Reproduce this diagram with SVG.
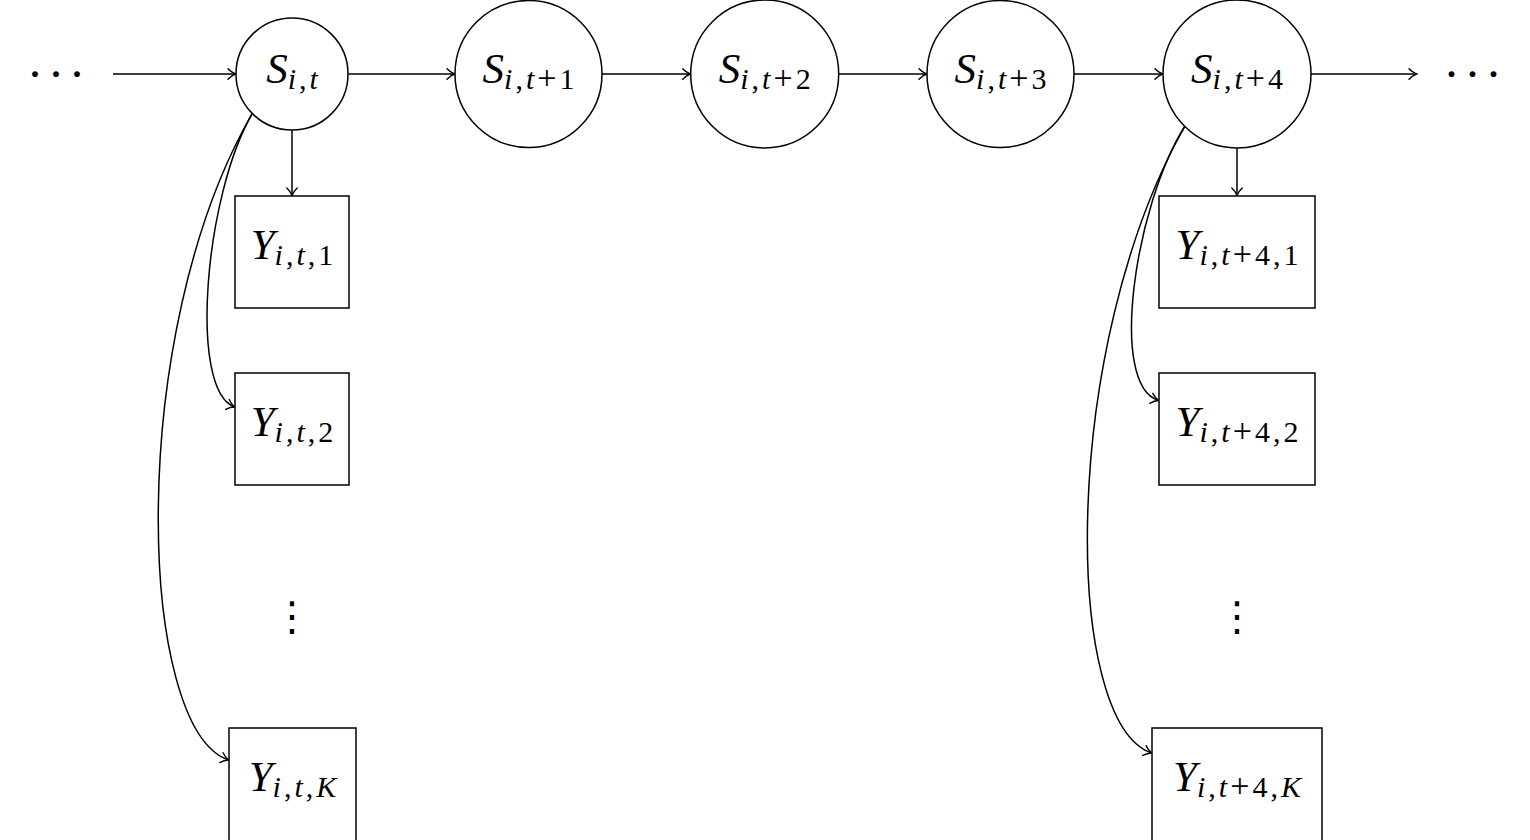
<svg xmlns="http://www.w3.org/2000/svg" width="1530" height="840" viewBox="0 0 1530 840">
  <style>
    .node { fill: #fff; stroke: #000; stroke-width: 1.5; }
    .edge { fill: none; stroke: #000; stroke-width: 1.5; marker-end: url(#tip); }
    .lbl { font-family: "Liberation Serif", "DejaVu Serif", serif; font-size: 43px; fill: #000; text-anchor: middle; }
    .it { font-style: italic; }
    .sub { font-size: 30px; letter-spacing: 3px; }
    .op { font-size: 34px; }
    .dots { font-family: "Liberation Serif", serif; font-size: 36px; font-weight: bold; fill: #000; text-anchor: middle; }
    .vdots { font-family: "DejaVu Sans", sans-serif; font-size: 40px; fill: #000; text-anchor: middle; }
  </style>
  <defs>
    <marker id="tip" markerUnits="userSpaceOnUse" markerWidth="16" markerHeight="16" viewBox="-10 -8 12 16" refX="0" refY="0" orient="auto">
      <path d="M -7.5 -5.2 C -4.8 -2.3 -1.6 -0.6 0 0 C -1.6 0.6 -4.8 2.3 -7.5 5.2" fill="none" stroke="#000" stroke-width="1.4" stroke-linecap="round"/>
    </marker>
  </defs>

  <!-- connectors -->
  <g id="edges">
    <path class="edge" d="M 113 74 L 235.5 74"/>
    <path class="edge" d="M 348.5 74 L 454.5 74"/>
    <path class="edge" d="M 602 74 L 690.2 74"/>
    <path class="edge" d="M 838.7 74 L 926.5 74"/>
    <path class="edge" d="M 1074 74 L 1162.5 74"/>
    <path class="edge" d="M 1311 74 L 1416.5 74"/>
    <path class="edge" d="M 292 130 L 292 195.5"/>
    <path class="edge" d="M 1237 148 L 1237 195.5"/>
    <path class="edge" d="M 252 114 C 205 195 188 390 234.5 407"/>
    <path class="edge" d="M 252 114 C 125 334 137 729 228.5 760"/>
    <path class="edge" d="M 1185 126 C 1135 205 1108 385 1158.5 400.5"/>
    <path class="edge" d="M 1185 126 C 1060 346 1062 722 1151.5 753"/>
  </g>

  <!-- ellipsis at the ends of the chain -->
  <text class="dots" x="56" y="86">· · ·</text>
  <text class="dots" x="1472.5" y="86">· · ·</text>

  <!-- hidden states -->
  <g id="S_t">
    <circle class="node" cx="292" cy="74" r="56"/>
    <text class="lbl" x="293.5" y="83"><tspan class="it">S</tspan><tspan class="sub" dy="6"><tspan class="it">i</tspan>,<tspan class="it">t</tspan></tspan></text>
  </g>
  <g id="S_t1">
    <circle class="node" cx="528.5" cy="74" r="73.5"/>
    <text class="lbl" x="530" y="83"><tspan class="it">S</tspan><tspan class="sub" dy="6"><tspan class="it">i</tspan>,<tspan class="it">t</tspan><tspan class="op">+</tspan>1</tspan></text>
  </g>
  <g id="S_t2">
    <circle class="node" cx="764.7" cy="74" r="74"/>
    <text class="lbl" x="766.2" y="83"><tspan class="it">S</tspan><tspan class="sub" dy="6"><tspan class="it">i</tspan>,<tspan class="it">t</tspan><tspan class="op">+</tspan>2</tspan></text>
  </g>
  <g id="S_t3">
    <circle class="node" cx="1000.5" cy="74" r="73.5"/>
    <text class="lbl" x="1002" y="83"><tspan class="it">S</tspan><tspan class="sub" dy="6"><tspan class="it">i</tspan>,<tspan class="it">t</tspan><tspan class="op">+</tspan>3</tspan></text>
  </g>
  <g id="S_t4">
    <circle class="node" cx="1237" cy="74" r="74"/>
    <text class="lbl" x="1238.5" y="83"><tspan class="it">S</tspan><tspan class="sub" dy="6"><tspan class="it">i</tspan>,<tspan class="it">t</tspan><tspan class="op">+</tspan>4</tspan></text>
  </g>

  <!-- observations for time t -->
  <g id="Y_t_1">
    <rect class="node" x="235" y="196" width="114" height="112"/>
    <text class="lbl" x="293.5" y="259"><tspan class="it">Y</tspan><tspan class="sub" dy="6"><tspan class="it">i</tspan>,<tspan class="it">t</tspan>,1</tspan></text>
  </g>
  <g id="Y_t_2">
    <rect class="node" x="235" y="373" width="114" height="112"/>
    <text class="lbl" x="293.5" y="436"><tspan class="it">Y</tspan><tspan class="sub" dy="6"><tspan class="it">i</tspan>,<tspan class="it">t</tspan>,2</tspan></text>
  </g>
  <text id="vdots_t" class="vdots" x="292" y="630">⋮</text>
  <g id="Y_t_K">
    <rect class="node" x="229" y="728" width="127" height="113"/>
    <text class="lbl" x="294" y="791"><tspan class="it">Y</tspan><tspan class="sub" dy="6"><tspan class="it">i</tspan>,<tspan class="it">t</tspan>,<tspan class="it">K</tspan></tspan></text>
  </g>

  <!-- observations for time t+4 -->
  <g id="Y_t4_1">
    <rect class="node" x="1159" y="196" width="156" height="112"/>
    <text class="lbl" x="1238.5" y="259"><tspan class="it">Y</tspan><tspan class="sub" dy="6"><tspan class="it">i</tspan>,<tspan class="it">t</tspan><tspan class="op">+</tspan>4,1</tspan></text>
  </g>
  <g id="Y_t4_2">
    <rect class="node" x="1159" y="373" width="156" height="112"/>
    <text class="lbl" x="1238.5" y="436"><tspan class="it">Y</tspan><tspan class="sub" dy="6"><tspan class="it">i</tspan>,<tspan class="it">t</tspan><tspan class="op">+</tspan>4,2</tspan></text>
  </g>
  <text id="vdots_t4" class="vdots" x="1237" y="630">⋮</text>
  <g id="Y_t4_K">
    <rect class="node" x="1152" y="728" width="170" height="113"/>
    <text class="lbl" x="1238.5" y="791"><tspan class="it">Y</tspan><tspan class="sub" dy="6"><tspan class="it">i</tspan>,<tspan class="it">t</tspan><tspan class="op">+</tspan>4,<tspan class="it">K</tspan></tspan></text>
  </g>
</svg>
